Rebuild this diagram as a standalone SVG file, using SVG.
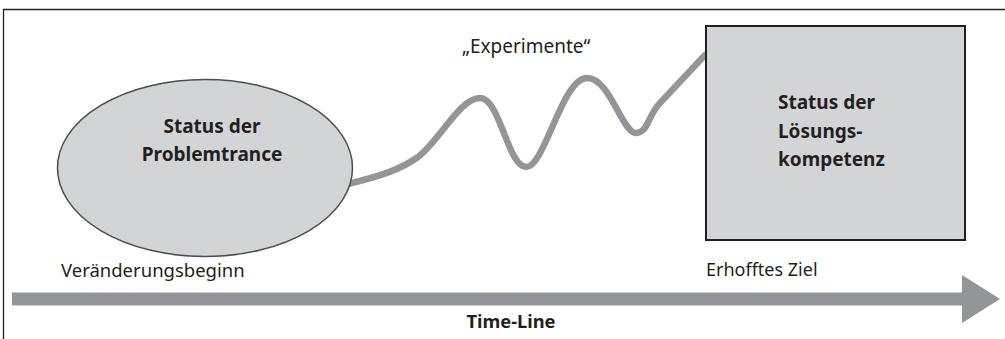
<svg xmlns="http://www.w3.org/2000/svg" width="1005" height="339" viewBox="0 0 1005 339">
<style>
.t{font-family:"Noto Sans","Open Sans","Liberation Sans",sans-serif;font-size:18.5px;fill:#231f20}
.b{font-weight:bold;font-size:19px}
.node{fill:#d3d4d6}
</style>
<rect width="1005" height="339" fill="#fff"/>
<g id="frame" fill="none" stroke="#231f20" stroke-width="1.3">
<path d="M3.5 339 V9.5 H1005"/>
</g>
<g id="connectors">
<path d="M348 184 C380 176 400 170 418 157 C440 140 460 98 480 98 C500 98 508 167 526 167 C545 167 562 78 587 78 C610 78 622 133 636 133 C648 133 648 115 660 103 L705 55" fill="none" stroke="#939598" stroke-width="6.5" stroke-linecap="round" stroke-linejoin="round"/>
<path id="timeline" d="M12 292.5 H962 V275 L1000 299 L962 323 V305.5 H12 Z" fill="#939598"/>
</g>
<g id="problem">
<ellipse class="node" cx="205" cy="168" rx="147.5" ry="88.5" stroke="#4d4d4f" stroke-width="1.5"/>
<text class="t b" x="212" y="133" text-anchor="middle">Status der</text>
<text class="t b" x="212" y="161" text-anchor="middle">Problemtrance</text>
</g>
<g id="loesung">
<rect class="node" x="706" y="26" width="259" height="214" stroke="#231f20" stroke-width="2"/>
<text class="t b" x="778" y="109">Status der</text>
<text class="t b" x="778" y="138">Lösungs-</text>
<text class="t b" x="778" y="166">kompetenz</text>
</g>
<g id="labels">
<text class="t" x="462" y="53" style="font-size:19px">„Experimente“</text>
<text class="t" x="61" y="277">Veränderungsbeginn</text>
<text class="t" x="706" y="276" style="font-size:18px">Erhofftes Ziel</text>
<text class="t b" x="511" y="328" text-anchor="middle" style="font-size:18.3px">Time-Line</text>
</g>
</svg>
